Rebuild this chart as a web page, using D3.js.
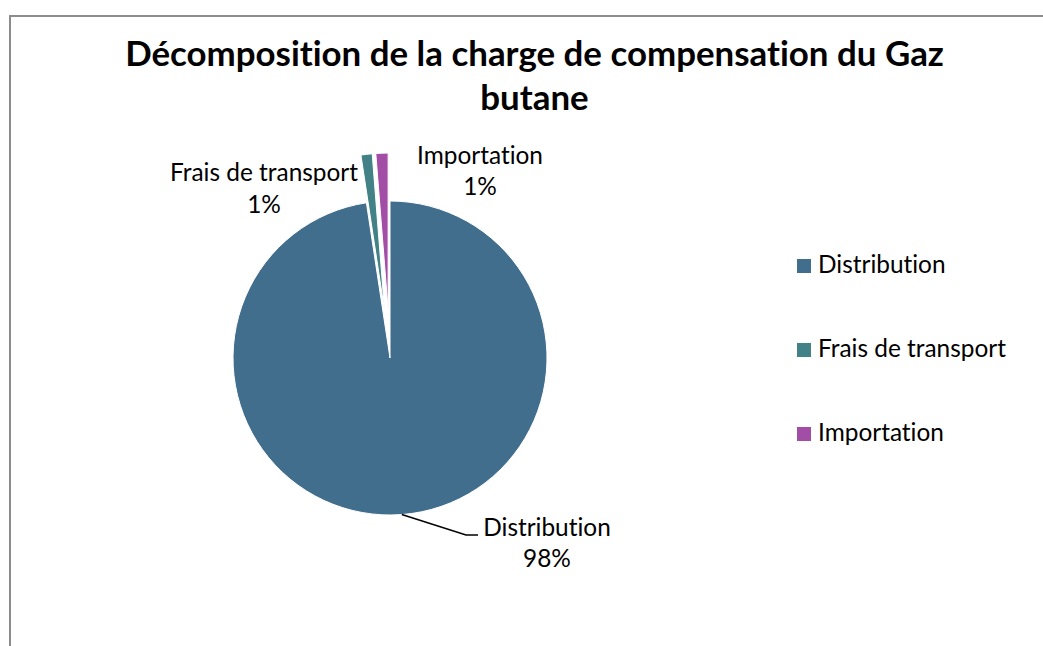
<!DOCTYPE html>
<html>
<head>
<meta charset="utf-8">
<script src="https://cdn.jsdelivr.net/npm/d3@7"></script>
<style>
html,body{margin:0;padding:0;background:#fff;}
svg{display:block;}
text{font-family:"Lato","Open Sans",sans-serif;fill:#000;font-variant-ligatures:none;font-feature-settings:"liga" 0, "clig" 0;}
</style>
</head>
<body>
<svg id="chart" width="1043" height="646"></svg>
<script>
const categories = ["Distribution", "Frais de transport", "Importation"];
const values = [97.6, 1.15, 1.25];
const percentLabels = ["98%", "1%", "1%"];
const colors = ["#426E8E", "#428185", "#A24DA6"];
const exploded = [false, true, true];
const titleLines = ["Décomposition de la charge de compensation du Gaz", "butane"];

const svg = d3.select("#chart");
const W = 1043, H = 646;

// frame
svg.append("path")
  .attr("d", `M10,${H} L10,16 L${W},16`)
  .attr("fill", "none").attr("stroke", "#8c8c8c").attr("stroke-width", 2);

function fitSize(text, weight, targetW, base) {
  const t = svg.append("text").attr("font-size", base).attr("font-weight", weight).text(text);
  const w = t.node().getComputedTextLength();
  t.remove();
  return base * targetW / w;
}

// title
const titleSize = fitSize(titleLines[0], "bold", 819, 30);
const title = svg.append("g");
title.selectAll("text").data(titleLines).join("text")
  .attr("x", 534.5)
  .attr("y", (d, i) => 66 + i * 44)
  .attr("text-anchor", "middle")
  .attr("font-weight", "bold")
  .attr("font-size", titleSize)
  .text(d => d);

const labelSize = fitSize("Frais de transport", "normal", 188, 20);

// pie
const cx = 390, cy = 358, r = 157, explode = 48;
const pie = d3.pie().sort(null).value(d => d.v);
const arcs = pie(categories.map((c, i) => ({c, v: values[i], i})));
const arc = d3.arc().innerRadius(0).outerRadius(r);

const g = svg.append("g").attr("transform", `translate(${cx},${cy})`);
g.selectAll("path").data(arcs).join("path")
  .attr("d", arc)
  .attr("fill", d => colors[d.data.i])
  .attr("stroke", "#fff").attr("stroke-width", 1)
  .attr("transform", d => {
    if (!exploded[d.data.i]) return null;
    const m = (d.startAngle + d.endAngle) / 2;
    return `translate(${Math.sin(m) * explode},${-Math.cos(m) * explode})`;
  });

// data labels
const labelPos = [
  {x: 547, y1: 536, y2: 567},
  {x: 264, y1: 181, y2: 213},
  {x: 480, y1: 164, y2: 195}
];
categories.forEach((c, i) => {
  const p = labelPos[i];
  svg.append("text").attr("x", p.x).attr("y", p.y1).attr("text-anchor", "middle")
    .attr("font-size", labelSize).text(c);
  svg.append("text").attr("x", p.x).attr("y", p.y2).attr("text-anchor", "middle")
    .attr("font-size", labelSize).text(percentLabels[i]);
});

// leader line for Distribution
const dMid = (arcs[0].startAngle + arcs[0].endAngle) / 2;
const lx0 = cx + Math.sin(dMid) * r, ly0 = cy - Math.cos(dMid) * r;
svg.append("path")
  .attr("d", `M${lx0},${ly0} L466,535 L478,535`)
  .attr("fill", "none").attr("stroke", "#000").attr("stroke-width", 1.5);

// legend
const legend = svg.append("g");
const legY = d3.scalePoint().domain(categories).range([266, 434]);
categories.forEach((c, i) => {
  const y = legY(c);
  legend.append("rect").attr("x", 797).attr("y", y - 7).attr("width", 14).attr("height", 14)
    .attr("fill", colors[i]);
  legend.append("text").attr("x", 818).attr("y", y + 7).attr("font-size", labelSize).text(c);
});
</script>
</body>
</html>
